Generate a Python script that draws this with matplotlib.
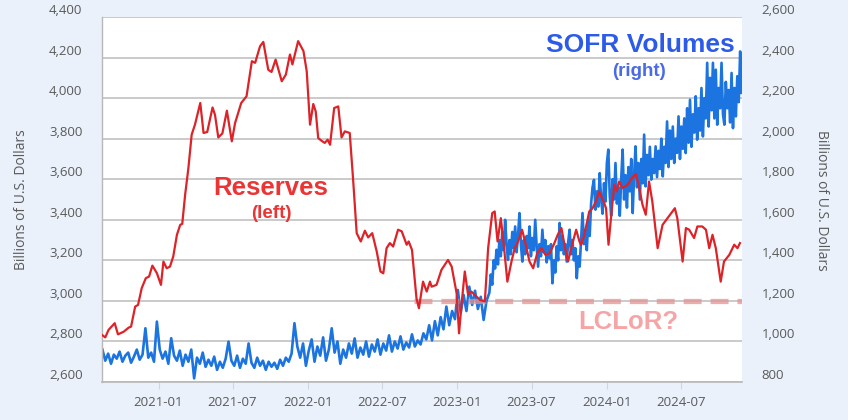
import matplotlib
matplotlib.use("Agg")
import matplotlib.pyplot as plt
import matplotlib.dates as mdates
from matplotlib.transforms import ScaledTranslation
import pandas as pd

# ---------------- data ----------------
reserves_dates = [
    "2020-08-16", "2020-08-24", "2020-09-01", "2020-09-16", "2020-09-24", "2020-10-08", "2020-10-20", "2020-10-26",
    "2020-11-05", "2020-11-12", "2020-11-21", "2020-12-01", "2020-12-09", "2020-12-17", "2020-12-28", "2021-01-07",
    "2021-01-13", "2021-01-21", "2021-01-29", "2021-02-06", "2021-02-15", "2021-02-23", "2021-02-28", "2021-03-07",
    "2021-03-15", "2021-03-23", "2021-03-31", "2021-04-13", "2021-04-21", "2021-04-30", "2021-05-13", "2021-05-19",
    "2021-05-27", "2021-06-06", "2021-06-17", "2021-06-29", "2021-07-07", "2021-07-22", "2021-08-04", "2021-08-17",
    "2021-08-25", "2021-09-06", "2021-09-14", "2021-09-26", "2021-10-04", "2021-10-14", "2021-10-29", "2021-11-08",
    "2021-11-18", "2021-11-24", "2021-12-08", "2021-12-21", "2021-12-29", "2022-01-06", "2022-01-14", "2022-01-20",
    "2022-01-26", "2022-02-03", "2022-02-11", "2022-02-18", "2022-02-24", "2022-03-06", "2022-03-16", "2022-03-24",
    "2022-04-01", "2022-04-13", "2022-04-21", "2022-04-30", "2022-05-10", "2022-05-20", "2022-05-28", "2022-06-07",
    "2022-06-18", "2022-06-27", "2022-07-04", "2022-07-12", "2022-07-20", "2022-07-28", "2022-08-09", "2022-08-18",
    "2022-08-30", "2022-09-04", "2022-09-12", "2022-09-23", "2022-09-29", "2022-10-09", "2022-10-18", "2022-10-26",
    "2022-10-30", "2022-11-11", "2022-11-23", "2022-12-09", "2022-12-18", "2022-12-30", "2023-01-05", "2023-01-11",
    "2023-01-19", "2023-01-27", "2023-02-04", "2023-02-12", "2023-02-25", "2023-03-09", "2023-03-17", "2023-03-27",
    "2023-04-02", "2023-04-09", "2023-04-17", "2023-04-25", "2023-05-03", "2023-05-13", "2023-05-21", "2023-05-29",
    "2023-06-08", "2023-06-17", "2023-06-26", "2023-07-05", "2023-07-15", "2023-07-25", "2023-08-04", "2023-08-14",
    "2023-08-24", "2023-09-03", "2023-09-12", "2023-09-21", "2023-09-28", "2023-10-08", "2023-10-18", "2023-10-26",
    "2023-10-30", "2023-11-07", "2023-11-19", "2023-11-27", "2023-12-05", "2023-12-13", "2023-12-24", "2023-12-30",
    "2024-01-05", "2024-01-11", "2024-01-19", "2024-01-25", "2024-01-31", "2024-02-08", "2024-02-21", "2024-03-02",
    "2024-03-12", "2024-03-20", "2024-03-28", "2024-04-05", "2024-04-13", "2024-04-21", "2024-05-04", "2024-05-16",
    "2024-05-28", "2024-06-09", "2024-06-15", "2024-06-21", "2024-07-04", "2024-07-12", "2024-07-20", "2024-08-01",
    "2024-08-09", "2024-08-21", "2024-08-30", "2024-09-07", "2024-09-15", "2024-09-23", "2024-10-05", "2024-10-13",
    "2024-10-26", "2024-11-07", "2024-11-15", "2024-11-21",
]
reserves_values = [
    2832, 2820, 2857, 2890, 2835, 2848, 2868, 2873,
    2972, 2980, 3063, 3112, 3120, 3174, 3137, 3079,
    3194, 3161, 3169, 3219, 3326, 3375, 3380, 3523,
    3655, 3820, 3869, 3976, 3828, 3833, 3954, 3917,
    3806, 3826, 3938, 3787, 3877, 3976, 4009, 4182,
    4174, 4256, 4277, 4140, 4129, 4190, 4083, 4116,
    4215, 4166, 4281, 4232, 4132, 3869, 3971, 3934,
    3803, 3790, 3779, 3795, 3770, 3951, 3959, 3806,
    3836, 3828, 3606, 3334, 3293, 3346, 3313, 3334,
    3243, 3145, 3136, 3260, 3285, 3268, 3351, 3343,
    3277, 3293, 3252, 3013, 2964, 3095, 3046, 3095,
    3070, 3079, 3153, 3202, 3169, 3038, 2840, 2982,
    3145, 3030, 3046, 3030, 3005, 2997, 3260, 3433,
    3441, 3293, 3408, 3260, 3095, 3194, 3260, 3293,
    3351, 3276, 3194, 3161, 3235, 3260, 3227, 3235,
    3276, 3326, 3359, 3260, 3194, 3276, 3351, 3293,
    3276, 3326, 3441, 3457, 3490, 3540, 3490, 3457,
    3277, 3408, 3573, 3540, 3589, 3557, 3573, 3606,
    3626, 3557, 3474, 3425, 3589, 3490, 3260, 3375,
    3408, 3441, 3457, 3408, 3194, 3359, 3351, 3310,
    3367, 3367, 3351, 3260, 3326, 3260, 3095, 3194,
    3227, 3277, 3260, 3285,
]

# SOFR volumes: weekly readings until March 2023, then twice-weekly readings
sofr_weekly_start = "2020-08-17"
sofr_weekly_values = [
    960, 905, 940, 890, 935, 915, 950, 900, 930, 945, 895, 925, 960, 910, 935, 1065, 920, 945, 900, 1098,
    960, 915, 950, 890, 1016, 930, 905, 955, 880, 935, 900, 960, 818, 920, 890,
    945, 875, 910, 880, 925, 860, 900, 870, 915, 999, 905, 880, 930, 870, 915, 890, 990, 895, 870, 920,
    880, 905, 860, 900, 875, 895, 865, 910, 880, 920, 900,
    940, 1090, 975, 920, 990, 880, 955, 1010, 900, 975, 930, 1020, 905, 960, 1065, 945, 1000, 890, 960,
    920, 990, 940, 1015, 920, 970, 935, 1000, 925, 985, 950,
    1010, 935, 990, 955, 1030, 950, 1000, 965, 1025, 960, 995, 970, 1035, 975, 1005, 985, 1040,
    1010, 1080, 1005, 1100, 1030, 1120, 1060, 1172, 1080, 1150, 1110, 1254, 1140,
    1230, 1150, 1270, 1180, 1250, 1160, 1220, 1106, 1200,
]
sofr_halfweek_start = "2023-03-20"
sofr_halfweek_values = [
    1240, 1330, 1280, 1400, 1360, 1452, 1380, 1500, 1420, 1540, 1450, 1600,
    1480, 1402, 1500, 1430, 1540, 1460, 1567, 1440, 1520, 1633, 1480, 1394, 1500, 1430, 1520, 1460,
    1567, 1420, 1510, 1450, 1600, 1470, 1369, 1480, 1420, 1551, 1440, 1500, 1390, 1470, 1410, 1480,
    1287, 1400, 1340, 1469, 1400, 1584, 1450, 1520, 1430, 1480, 1394, 1490, 1551, 1430, 1500, 1400,
    1460, 1312, 1420, 1369, 1500, 1633, 1480, 1551, 1450, 1600, 1520,
    1680, 1760, 1797, 1650, 1740, 1665, 1830, 1700, 1630, 1780, 1690, 1880, 1946, 1720, 1620, 1800,
    1700, 1880, 1680, 1760, 1620, 1800, 1946, 1700, 1820, 1660, 1860, 1740, 1900, 1633, 1820, 1962,
    1760, 1880, 1700, 1900, 1780, 2020, 1765, 1920, 1820, 1960, 1798, 1900, 1830, 1962, 1810, 1940,
    1850, 2000, 1814, 1960, 1880, 2085, 1860, 2040, 1900, 2060, 1880, 2000, 1930, 2110, 1900, 2060,
    1950, 2100, 1929, 2150, 1980, 2192, 1960, 2120, 2030, 2209, 1995, 2150, 2040, 2250, 2011, 2200,
    2100, 2374, 2060, 2300, 2140, 2374, 2100, 2340, 2069, 2250, 2150, 2374, 2120, 2069, 2280, 2150,
    2240, 2080, 2324, 2052, 2250, 2110, 2308, 2180, 2430, 2226,
]

lclor_level = 3000
lclor_start = "2022-09-18"

left_ticks = [2600, 2800, 3000, 3200, 3400, 3600, 3800, 4000, 4200, 4400]
right_ticks = [800, 1000, 1200, 1400, 1600, 1800, 2000, 2200, 2400, 2600]
x_ticks = ["2021-01-01", "2021-07-01", "2022-01-01", "2022-07-01",
           "2023-01-01", "2023-07-01", "2024-01-01", "2024-07-01"]
x_range = ["2020-08-16", "2024-11-26"]

# ---------------- figure ----------------
BG = "#EAF1FA"
TICK = "#5a5a5a"
fig = plt.figure(figsize=(8.48, 4.20), dpi=100, facecolor=BG)
ax2 = fig.add_axes([102 / 848, 38 / 420, 640 / 848, 365 / 420])   # right axis (drawn below)
ax = fig.add_axes(ax2.get_position(), sharex=ax2)                  # left axis (drawn on top)
ax.patch.set_visible(False)
ax2.set_facecolor("white")

r_dates = pd.to_datetime(reserves_dates)
s_dates = pd.date_range(sofr_weekly_start, periods=len(sofr_weekly_values), freq="7D").append(
    pd.date_range(sofr_halfweek_start, periods=len(sofr_halfweek_values), freq="84h"))
s_values = sofr_weekly_values + sofr_halfweek_values

# blue SOFR volumes on right axis
ax2.plot(s_dates, s_values, color="#1B74E0", lw=1.9, zorder=3)
ax2.set_ylim(right_ticks[0], right_ticks[-1])
ax2.set_yticks(right_ticks)
ax2.yaxis.tick_right()
ax2.grid(axis="y", color="#c6c6c6", lw=1.3)
ax2.set_axisbelow(True)

# red reserves on left axis
ax.hlines(lclor_level, pd.Timestamp(lclor_start), pd.Timestamp(x_range[1]),
          colors="#E39393", lw=3.8, alpha=0.75, linestyles=(0, (3.4, 1.7)), zorder=2)
ax.plot(r_dates, reserves_values, color="#DD2328", lw=1.6, zorder=4)
ax.set_ylim(left_ticks[0], left_ticks[-1])
ax.set_yticks(left_ticks)
ax.yaxis.tick_left()

ax.set_xlim(pd.Timestamp(x_range[0]), pd.Timestamp(x_range[1]))
ax.set_xticks(pd.to_datetime(x_ticks))
ax.xaxis.set_major_formatter(mdates.DateFormatter("%Y-%m"))

tick_font = dict(family="Open Sans", size=9.5, color=TICK)
ax.set_yticklabels([f"{v:,}" for v in left_ticks], **tick_font)
ax2.set_yticklabels([f"{v:,}" for v in right_ticks], **tick_font)
ax.tick_params(axis="y", length=0, pad=14)
ax2.tick_params(axis="y", length=0, pad=14)
ax.tick_params(axis="x", length=5, color="#cfd6de", pad=5)
ax2.tick_params(axis="x", labelbottom=False, length=0)
for lab in ax.get_xticklabels():
    lab.set_fontfamily("Open Sans")
    lab.set_fontsize(9.5)
    lab.set_color(TICK)

# y tick labels sit slightly above their gridlines, as in the reference
off = ScaledTranslation(0, 8 / 100, fig.dpi_scale_trans)
for t in ax.yaxis.get_major_ticks():
    t.label1.set_transform(t.label1.get_transform() + off)
for t in ax2.yaxis.get_major_ticks():
    t.label2.set_transform(t.label2.get_transform() + off)

for a in (ax, ax2):
    for s in ("top", "right"):
        a.spines[s].set_visible(False)
    a.spines["left"].set_color("#b8b8b8")
    a.spines["bottom"].set_color("#b8b8b8")
    a.spines["left"].set_linewidth(1.0)
    a.spines["bottom"].set_linewidth(1.2)
ax2.spines["left"].set_visible(False)
ax2.spines["bottom"].set_visible(False)

label_font = dict(family="Open Sans", size=10, color=TICK)
fig.text(22 / 848, 1 - 200 / 420, "Billions of U.S. Dollars", rotation=90,
         ha="center", va="center", **label_font)
fig.text(822 / 848, 1 - 200 / 420, "Billions of U.S. Dollars", rotation=270,
         ha="center", va="center", **label_font)

# annotations
ann = dict(family="Liberation Sans", weight="bold", ha="center", va="center",
           transform=fig.transFigure)
fig.text(640 / 848, 1 - 45 / 420, "SOFR Volumes", color="#2C5BEA", size=19, **ann)
fig.text(639 / 848, 1 - 71 / 420, "(right)", color="#4A6AE6", size=13.5, **ann)
fig.text(271 / 848, 1 - 188 / 420, "Reserves", color="#EB3535", size=18.5, **ann)
fig.text(271 / 848, 1 - 214 / 420, "(left)", color="#EB3535", size=13.5, **ann)
fig.text(628 / 848, 1 - 322 / 420, "LCLoR?", color="#F5A5A5", size=18.5, **ann)

fig.savefig("out.png", dpi=100, facecolor=BG)
